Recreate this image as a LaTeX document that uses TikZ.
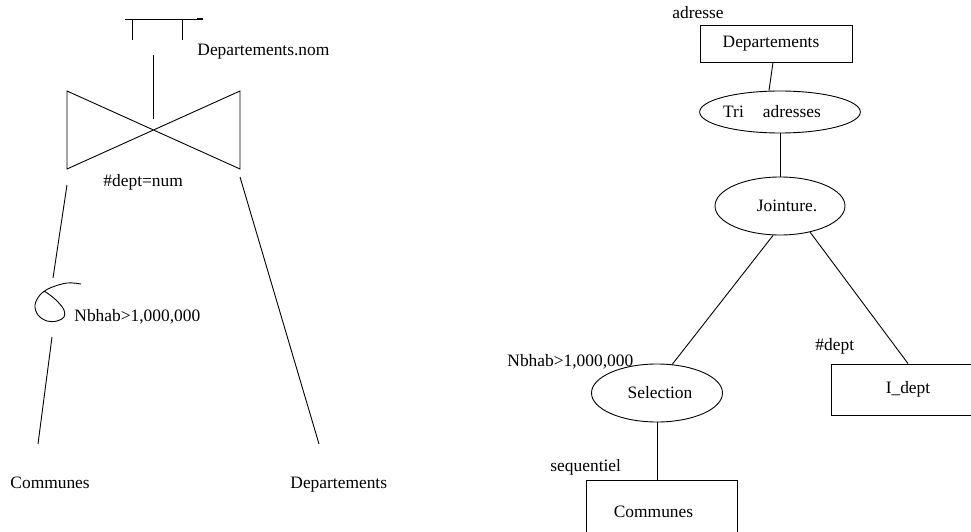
\documentclass[tikz,border=0pt]{standalone}
\usepackage{fontspec}
\setmainfont{Liberation Serif}
\usetikzlibrary{shapes.geometric,positioning}

\begin{document}
\begin{tikzpicture}[
        x=1pt, y=-1pt, line width=0.9pt,
        font=\fontsize{17.4}{20}\selectfont
    ]

    \tikzstyle{block} = [rectangle,draw,inner sep=0pt]
    \tikzstyle{oper} = [ellipse,draw,inner sep=0pt]
    \tikzstyle{txt} = [inner sep=0pt,anchor=base west]

    \useasboundingbox (0,0) rectangle (971,532);
    \clip (0,0) rectangle (971,532);

    % arbre algebrique (gauche)
    \draw (125,19) -- (203,19);
    \draw[line width=1.8pt] (197,19) -- (203,19);
    \draw (132,19) -- (132,40);
    \draw (182,19) -- (182,40);
    \node[txt] (projattr) at (197,56) {Departements.nom};
    \draw (153,55) -- (153,119);

    \draw (67,91) -- (240,169) -- (240,91) -- (67,169) -- cycle;
    \node[txt] (joincond) at (103,186) {\#dept=num};

    \draw (67,185) -- (53,278);
    \draw plot[smooth,tension=0.6] coordinates {(81,284) (67,283) (50,288)
        (40,295) (35,305) (38,315) (47,321) (57,321) (64,317) (64,310)
        (58,302) (50,295) (44,291)};
    \node[txt] (selcond) at (74,321) {Nbhab>1,000,000};
    \draw (52,337) -- (38,444);
    \draw (240,177) -- (319,444);

    \node[txt] (comm) at (10,488) {Communes};
    \node[txt] (dept) at (290,488) {Departements};

    % plan d'execution (droite)
    \node[block,minimum width=152pt,minimum height=37pt] (deps) at (776,43.5) {Departements\kern10pt};
    \node[txt] (adr) at (672,19) {adresse};
    \node[oper,minimum width=160pt,minimum height=42pt] (tri) at (780,112) {Tri\hspace{19pt}adresses\kern16pt};
    \node[oper,minimum width=130pt,minimum height=58pt] (join) at (780,206) {\kern14pt Jointure.};
    \node[oper,minimum width=131pt,minimum height=58pt] (sel) at (657,393) {\kern6pt Selection};
    \node[txt] (nbhab) at (507,366) {Nbhab>1,000,000};
    \node[block,minimum width=151pt,minimum height=64pt] (com) at (661.5,512) {Communes\kern16pt};
    \node[txt] (seq) at (550,471) {sequentiel};
    \node[block,minimum width=154pt,minimum height=51pt] (idx) at (908,389.5) {I\_dept};
    \node[txt] (cle) at (815,350) {\#dept};

    \path[]
        ([xshift=-3pt]deps.south) edge ([xshift=-7pt]deps.south |- tri.north)
        (tri.south)               edge (join.north)
        ([xshift=-7pt]join.south) edge (sel.62)
        (join.-41)                edge (idx.north)
        (sel.south)               edge (sel.south |- com.north)
    ;

\end{tikzpicture}
\end{document}
